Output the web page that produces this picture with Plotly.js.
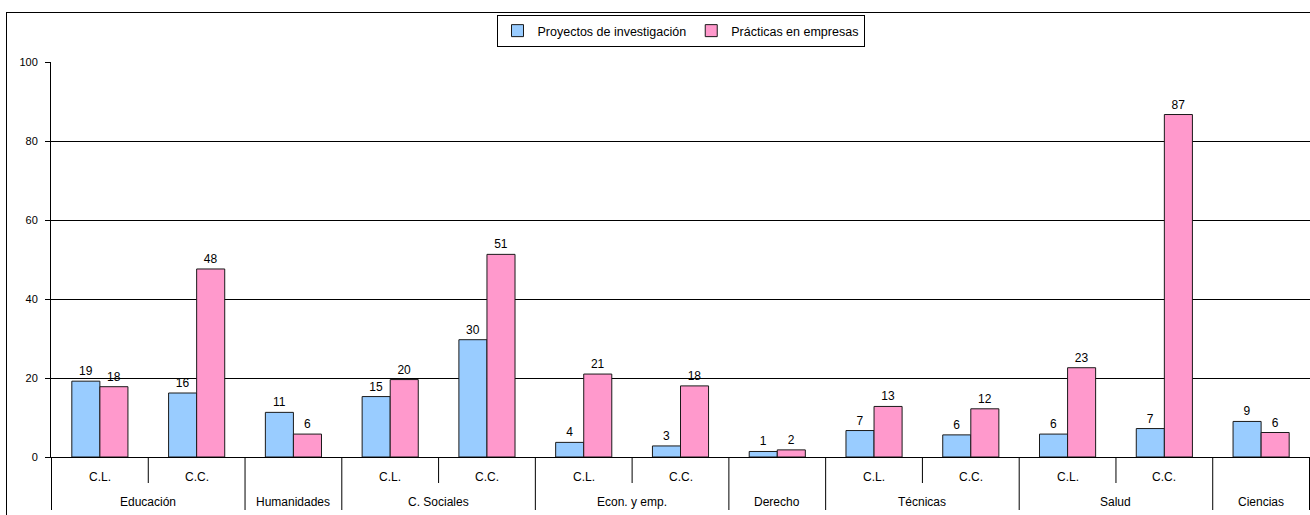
<!DOCTYPE html>
<html>
<head>
<meta charset="utf-8">
<script src="https://cdn.plot.ly/plotly-3.0.1.min.js"></script>
<style>
  html, body { margin: 0; padding: 0; background: #fff; overflow: hidden; }
  #chart { position: absolute; left: 0; top: 0; width: 1310px; height: 515px; }
  #frame { position: absolute; left: 6px; top: 12px; width: 1330px; height: 540px;
           border: 1px solid #000; pointer-events: none; box-sizing: border-box; }
</style>
</head>
<body>
<div id="chart"></div>
<div id="frame"></div>
<script>
const groups = ['Educación','Educación','Humanidades','C. Sociales','C. Sociales','Econ. y emp.','Econ. y emp.','Derecho','Técnicas','Técnicas','Salud','Salud','Ciencias'];
const subgroups = ['C.L.','C.C.','','C.L.','C.C.','C.L.','C.C.','','C.L.','C.C.','C.L.','C.C.',''];
const proyectos = [19.2, 16.2, 11.3, 15.3, 29.7, 3.7, 2.8, 1.4, 6.7, 5.6, 5.8, 7.2, 9.0];
const practicas = [17.8, 47.6, 5.8, 19.6, 51.3, 21.0, 18.0, 1.8, 12.8, 12.2, 22.6, 86.7, 6.2];
const seriesNames = ['Proyectos de investigación', 'Prácticas en empresas'];
const yTicks = [0, 20, 40, 60, 80, 100];

const FONT = 'Arial, "Liberation Sans", sans-serif';
const keys = groups.map((g, i) => g + ' / ' + (subgroups[i] || '-'));

function barTrace(name, vals, color) {
  return {
    type: 'bar',
    name: name,
    x: keys,
    y: vals,
    marker: { color: color, line: { color: '#1a1a1a', width: 1 } },
    texttemplate: '%{y:.0f}',
    textposition: 'outside',
    constraintext: 'none',
    cliponaxis: false,
    textfont: { family: FONT, size: 12, color: '#000' },
    hoverinfo: 'skip'
  };
}

const data = [
  barTrace(seriesNames[0], proyectos, '#99CCFF'),
  barTrace(seriesNames[1], practicas, '#FF99CC')
];

// axis decoration: short ticks between sub-categories, long dividers between groups
const PLOT_H = 515 - 62 - 58;
const shortTick = -(483 - 457) / PLOT_H;
const longTick = -(510 - 457) / PLOT_H;
const subLabelY = -(477 - 457) / PLOT_H;
const groupLabelY = -(502 - 457) / PLOT_H;

const shapes = [];
for (let i = 0; i <= keys.length; i++) {
  const isGroupEdge = (i === 0 || i === keys.length || groups[i] !== groups[i - 1]);
  shapes.push({
    type: 'line', xref: 'x', yref: 'paper',
    x0: i - 0.5, x1: i - 0.5, y0: 0, y1: isGroupEdge ? longTick : shortTick,
    line: { color: '#000', width: 1 }
  });
}

const annotations = [];
subgroups.forEach((s, i) => {
  if (s) {
    annotations.push({
      xref: 'x', yref: 'paper', x: i, y: subLabelY,
      text: s, showarrow: false, xanchor: 'center', yanchor: 'middle',
      font: { family: FONT, size: 12, color: '#000' }
    });
  }
});
const uniqueGroups = [...new Set(groups)];
uniqueGroups.forEach(g => {
  const idx = groups.map((v, i) => v === g ? i : -1).filter(i => i >= 0);
  const mid = (idx[0] + idx[idx.length - 1]) / 2;
  annotations.push({
    xref: 'x', yref: 'paper', x: mid, y: groupLabelY,
    text: g, showarrow: false, xanchor: 'center', yanchor: 'middle',
    font: { family: FONT, size: 12, color: '#000' }
  });
});

const layout = {
  width: 1310,
  height: 515,
  margin: { l: 51, r: 0, t: 62, b: 58 },
  paper_bgcolor: 'rgba(0,0,0,0)',
  plot_bgcolor: '#fff',
  font: { family: FONT, size: 11, color: '#000' },
  barmode: 'group',
  bargap: 0.42,
  bargroupgap: 0,
  showlegend: true,
  legend: {
    orientation: 'h',
    x: 0.5, xanchor: 'center',
    y: (457 - 15) / PLOT_H, yanchor: 'top',
    bordercolor: '#000', borderwidth: 1,
    bgcolor: '#fff',
    font: { family: FONT, size: 12.5, color: '#000' },
    itemwidth: 30,
    tracegroupgap: 0
  },
  xaxis: {
    type: 'category',
    showline: true, linecolor: '#000', linewidth: 1,
    ticks: '', showticklabels: false,
    showgrid: false, zeroline: false,
    fixedrange: true
  },
  yaxis: {
    range: [0, 100],
    tickvals: yTicks,
    ticktext: yTicks.map(String),
    showline: true, linecolor: '#000', linewidth: 1,
    ticks: 'outside', ticklen: 5, tickcolor: '#000',
    ticklabelstandoff: 5,
    showgrid: true, gridcolor: '#000', gridwidth: 1,
    zeroline: false,
    tickfont: { family: FONT, size: 11, color: '#000' }
  },
  shapes: shapes,
  annotations: annotations
};

Plotly.newPlot('chart', data, layout, { staticPlot: true, displayModeBar: false });
</script>
</body>
</html>
